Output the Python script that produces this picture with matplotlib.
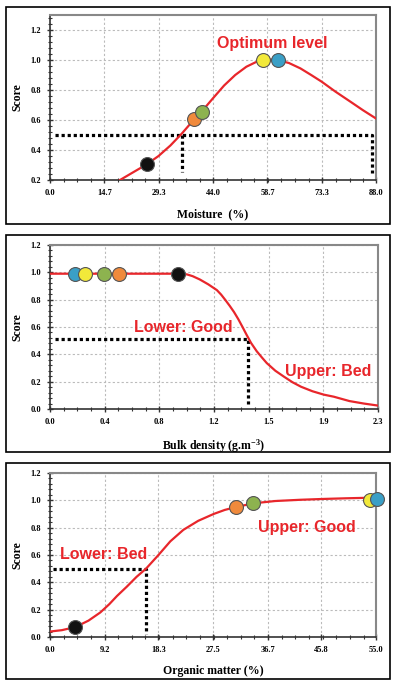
import numpy as np
import matplotlib.pyplot as plt
from matplotlib.patches import Rectangle
from matplotlib.ticker import AutoMinorLocator

plt.rcParams['mathtext.fontset'] = 'custom'
plt.rcParams['mathtext.rm'] = 'Liberation Serif:bold'
plt.rcParams['mathtext.it'] = 'Liberation Serif:bold'
plt.rcParams['mathtext.bf'] = 'Liberation Serif:bold'
plt.rcParams['mathtext.default'] = 'rm'

# ---- data ----
# moisture panel
moist_x = [18.9, 22.0, 26.1, 29.3, 32.5, 35.6, 39.0, 40.9, 44.0, 47.0, 50.0,
           53.0, 55.5, 57.4, 59.5, 61.5, 64.5, 67.6, 70.5, 73.3, 77.0, 81.1, 84.5, 88.0]
moist_y = [0.20, 0.245, 0.304, 0.36, 0.43, 0.51, 0.607, 0.655, 0.745, 0.83, 0.90,
           0.955, 0.985, 0.998, 1.003, 0.998, 0.98, 0.944, 0.90, 0.856, 0.79, 0.722, 0.665, 0.61]
moist_pts_x = [26.1, 39.0, 40.9, 57.4, 61.5]
moist_pts_y = [0.305, 0.607, 0.655, 1.0, 1.0]
moist_ticks = [0.0, 14.7, 29.3, 44.0, 58.7, 73.3, 88.0]

# bulk density panel
bulk_x = [0.0, 0.3, 0.6, 0.9, 0.96, 1.0, 1.05, 1.11, 1.17, 1.20, 1.23, 1.26, 1.29,
          1.32, 1.35, 1.38, 1.41, 1.45, 1.49, 1.52, 1.58, 1.64, 1.70, 1.76, 1.84,
          1.92, 1.99, 2.1, 2.2, 2.3]
bulk_y = [0.99, 0.99, 0.99, 0.99, 0.985, 0.972, 0.948, 0.912, 0.87, 0.837, 0.797, 0.755, 0.71,
          0.658, 0.60, 0.54, 0.483, 0.422, 0.372, 0.336, 0.28, 0.237, 0.196, 0.163, 0.13,
          0.105, 0.09, 0.058, 0.04, 0.025]
bulk_pts_x = [0.175, 0.246, 0.379, 0.482, 0.896]
bulk_pts_y = [0.99, 0.99, 0.99, 0.99, 0.985]
bulk_ticks = [0.0, 2.3 / 6, 2 * 2.3 / 6, 3 * 2.3 / 6, 4 * 2.3 / 6, 5 * 2.3 / 6, 2.3]
bulk_labels = ["0.0", "0.4", "0.8", "1.2", "1.5", "1.9", "2.3"]

# organic matter panel
org_x = [0.0, 2.0, 4.3, 6.5, 8.5, 10.0, 11.3, 13.0, 14.6, 16.2, 18.3, 20.3, 22.5,
         25.0, 27.6, 29.5, 31.3, 34.3, 38.0, 42.2, 46.0, 50.0, 55.0]
org_y = [0.04, 0.05, 0.073, 0.12, 0.18, 0.24, 0.30, 0.37, 0.44, 0.50, 0.60, 0.70, 0.784,
         0.85, 0.90, 0.93, 0.95, 0.978, 0.995, 1.004, 1.01, 1.015, 1.02]
org_pts_x = [4.3, 31.3, 34.3, 54.0, 55.2]
org_pts_y = [0.073, 0.95, 0.978, 1.004, 1.01]
org_ticks = [0.0, 9.2, 18.3, 27.5, 36.7, 45.8, 55.0]

pt_colors = {
    "moist": ["#111111", "#f08a3c", "#8db34f", "#f2e93a", "#3a9fc6"],
    "bulk": ["#3a9fc6", "#f2e93a", "#8db34f", "#f08a3c", "#111111"],
    "org": ["#111111", "#f08a3c", "#8db34f", "#f2e93a", "#3a9fc6"],
}

RED = "#e8262b"
W, H = 395, 685
fig = plt.figure(figsize=(W / 100, H / 100), dpi=100)

# outer frames
for top, bot in [(7, 224), (235, 452), (463, 679)]:
    fig.patches.append(Rectangle((6 / W, 1 - bot / H), (390 - 6) / W, (bot - top) / H,
                                 transform=fig.transFigure, fill=False,
                                 edgecolor="black", linewidth=1.2))


def make_axes(left, right, top, bot):
    return fig.add_axes([left / W, 1 - bot / H, (right - left) / W, (bot - top) / H])


def style(ax, xlabel, xticks, xlabels, yticks):
    ax.set_xticks(xticks)
    ax.set_xticklabels(xlabels)
    ax.set_yticks(yticks)
    ax.set_yticklabels(["%.1f" % v for v in yticks])
    ax.xaxis.set_minor_locator(AutoMinorLocator(4))
    ax.yaxis.set_minor_locator(AutoMinorLocator(5))
    ax.grid(True, which="major", color="#bbbbbb", linestyle=(0, (2, 2)), linewidth=0.8)
    ax.tick_params(which="major", direction="inout", length=5, width=1, color="#333333",
                   labelsize=6, pad=4)
    ax.tick_params(which="minor", direction="inout", length=3, width=0.8, color="#333333")
    for lab in ax.get_xticklabels() + ax.get_yticklabels():
        lab.set_family("Liberation Serif")
        lab.set_fontweight("bold")
    for s in ["top", "right"]:
        ax.spines[s].set_color("#888888")
        ax.spines[s].set_linewidth(1.5)
    for s in ["left", "bottom"]:
        ax.spines[s].set_color("#333333")
        ax.spines[s].set_linewidth(1.2)
    ax.set_xlabel(xlabel, family="Liberation Serif", fontweight="bold", fontsize=8.5, labelpad=8)
    ax.set_ylabel("Score", family="Liberation Serif", fontweight="bold", fontsize=8.5, labelpad=5)
    ax.set_axisbelow(True)


def dots(ax, xs, ys):
    ax.plot(xs, ys, color="black", linestyle=(0, (1, 0.9)), linewidth=2.3, zorder=3)


def markers(ax, xs, ys, colors):
    for x, y, c in zip(xs, ys, colors):
        ax.plot(x, y, "o", markersize=10, markerfacecolor=c,
                markeredgecolor="#555555", markeredgewidth=0.8, zorder=5, clip_on=False)


lbl = dict(color=RED, fontsize=11.5, fontweight="bold", family="Liberation Sans",
           ha="center", va="center")

# panel 1
ax1 = make_axes(50, 376, 15, 180)
ax1.set_xlim(0, 88)
ax1.set_ylim(0.2, 1.3)
ax1.plot(moist_x, moist_y, color=RED, linewidth=1.6, zorder=4)
dots(ax1, [1.3, 86.9, 86.9], [0.5, 0.5, 0.245])
dots(ax1, [35.6, 35.6], [0.5, 0.256])
markers(ax1, moist_pts_x, moist_pts_y, pt_colors["moist"])
ax1.text(59.9, 1.11, "Optimum level", **lbl)
style(ax1, "Moisture  (%)", moist_ticks, ["%.1f" % v for v in moist_ticks],
      [0.2, 0.4, 0.6, 0.8, 1.0, 1.2])

# panel 2
ax2 = make_axes(50, 378, 245, 409)
ax2.set_xlim(0, 2.3)
ax2.set_ylim(0, 1.2)
ax2.plot(bulk_x, bulk_y, color=RED, linewidth=1.6, zorder=4)
dots(ax2, [0.035, 1.385, 1.385], [0.515, 0.515, 0.04])
markers(ax2, bulk_pts_x, bulk_pts_y, pt_colors["bulk"])
ax2.text(0.936, 0.598, "Lower: Good", **lbl)
ax2.text(1.954, 0.278, "Upper: Bed", **lbl)
style(ax2, "Bulk density (g.m$^{-3}$)", bulk_ticks, bulk_labels,
      [0.0, 0.2, 0.4, 0.6, 0.8, 1.0, 1.2])

# panel 3
ax3 = make_axes(50, 376, 473, 637)
ax3.set_xlim(0, 55)
ax3.set_ylim(0, 1.2)
ax3.plot(org_x, org_y, color=RED, linewidth=1.6, zorder=4)
dots(ax3, [0.5, 16.2, 16.2], [0.5, 0.5, 0.02])
markers(ax3, org_pts_x, org_pts_y, pt_colors["org"])
ax3.text(9.1, 0.607, "Lower: Bed", **lbl)
ax3.text(43.4, 0.80, "Upper: Good", **lbl)
style(ax3, "Organic matter (%)", org_ticks, ["%.1f" % v for v in org_ticks],
      [0.0, 0.2, 0.4, 0.6, 0.8, 1.0, 1.2])

fig.savefig("out.png", dpi=100)
